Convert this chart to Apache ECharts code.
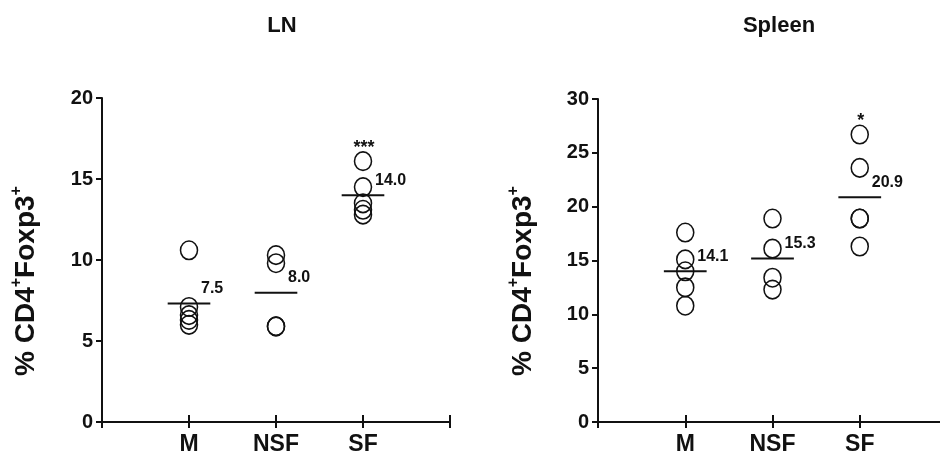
<!DOCTYPE html>
<html>
<head>
<meta charset="utf-8">
<script src="https://cdn.jsdelivr.net/npm/echarts@6/dist/echarts.min.js"></script>
<style>html,body{margin:0;padding:0;background:#fff;}#c{width:940px;height:465px;}</style>
</head>
<body>
<div id="c"></div>
<script>
// ---- data ----
const categories = ['M', 'NSF', 'SF'];
const panelTitles = ['LN', 'Spleen'];
const lnYTicks = [0, 5, 10, 15, 20];
const spYTicks = [0, 5, 10, 15, 20, 25, 30];
// individual animals (% CD4+Foxp3+)
const lnM   = [10.6, 7.1, 6.6, 6.3, 6.0];
const lnNSF = [10.3, 9.8, 5.9, 5.9];
const lnSF  = [16.1, 14.5, 13.5, 13.1, 12.8];
const spM   = [17.6, 15.1, 14.0, 12.5, 10.8];
const spNSF = [18.9, 16.1, 13.4, 12.3];
const spSF  = [26.7, 23.6, 18.9, 18.9, 16.3];
// printed mean labels and significance marks
const lnMeanLabels = ['7.5', '8.0', '14.0'];
const spMeanLabels = ['14.1', '15.3', '20.9'];
const lnSig = ['', '', '***'];
const spSig = ['', '', '*'];

// ---- build ----
const FONT = "'Liberation Sans', Arial, Helvetica, sans-serif";
const lnGroups = [lnM, lnNSF, lnSF];
const spGroups = [spM, spNSF, spSF];
function pts(groups) {
  const out = [];
  groups.forEach((g, i) => g.forEach(v => out.push([i + 1, v])));
  return out;
}
function mean(a) { return a.reduce((s, v) => s + v, 0) / a.length; }
function meanData(groups) { return groups.map((g, i) => [i + 1, mean(g)]); }
function topData(groups) { return groups.map((g, i) => [i + 1, Math.max.apply(null, g)]); }

function meanSeries(groups, labels, gi) {
  return {
    type: 'custom', xAxisIndex: gi * 2, yAxisIndex: gi * 2, silent: true, z: 3,
    data: meanData(groups),
    renderItem: function (params, api) {
      const c = api.coord([api.value(0), api.value(1)]);
      const hw = api.size([0.245, 0])[0];
      return {
        type: 'group',
        children: [
          { type: 'line', shape: { x1: c[0] - hw, y1: c[1], x2: c[0] + hw, y2: c[1] },
            style: { stroke: '#111', lineWidth: 2 } },
          { type: 'text', x: c[0] + 12, y: c[1] - 7,
            style: { text: labels[params.dataIndex], fill: '#111', font: 'bold 16px ' + FONT,
                     textAlign: 'left', textVerticalAlign: 'bottom' } }
        ]
      };
    }
  };
}
function sigSeries(groups, sig, gi) {
  return {
    type: 'custom', xAxisIndex: gi * 2, yAxisIndex: gi * 2, silent: true, z: 3,
    data: topData(groups),
    renderItem: function (params, api) {
      const c = api.coord([api.value(0), api.value(1)]);
      return { type: 'text', x: c[0] + 1, y: c[1] - 22,
        style: { text: sig[params.dataIndex], fill: '#111', font: 'bold 18px ' + FONT,
                 textAlign: 'center', textVerticalAlign: 'top' } };
    }
  };
}
function scatterSeries(groups, gi) {
  return {
    type: 'scatter', xAxisIndex: gi * 2, yAxisIndex: gi * 2, z: 2,
    symbol: 'circle', symbolSize: [17, 18.5],
    itemStyle: { color: 'rgba(0,0,0,0)', borderColor: '#111', borderWidth: 1.6, opacity: 1 },
    data: pts(groups)
  };
}
const grids = [
  { left: 102, width: 348, top: 98, bottom: 43, containLabel: false, outerBoundsMode: 'none' },
  { left: 598, width: 349, top: 99, bottom: 43, containLabel: false, outerBoundsMode: 'none' }
];
function xAxes(gi) {
  return [
    { type: 'value', gridIndex: gi, min: 0, max: 4, interval: 1, position: 'bottom',
      axisLine: { lineStyle: { color: '#111', width: 2 } },
      axisTick: { length: 6, lineStyle: { color: '#111', width: 2 } },
      splitLine: { show: false },
      axisLabel: { margin: 11, color: '#111', fontSize: 23, fontWeight: 'bold', fontFamily: FONT,
        formatter: v => (v >= 1 && v <= categories.length && v === Math.round(v)) ? categories[v - 1] : '' } },
    { type: 'value', gridIndex: gi, min: 0, max: 4, interval: 1, position: 'bottom',
      axisLine: { show: false }, axisLabel: { show: false }, splitLine: { show: false },
      axisTick: { inside: true, length: 7, lineStyle: { color: '#111', width: 2 } } }
  ];
}
function yAxes(gi, ticks) {
  const max = ticks[ticks.length - 1];
  const itv = ticks[1] - ticks[0];
  return [
    { type: 'value', gridIndex: gi, min: ticks[0], max: max, interval: itv,
      axisLine: { show: true, lineStyle: { color: '#111', width: 2 } },
      axisTick: { show: true, length: 6, lineStyle: { color: '#111', width: 2 } },
      splitLine: { show: false },
      axisLabel: { margin: 9, color: '#111', fontSize: 20, fontWeight: 'bold', fontFamily: FONT } },
    { type: 'value', gridIndex: gi, min: ticks[0], max: max, interval: itv,
      axisLine: { show: false }, axisLabel: { show: false }, splitLine: { show: false },
      axisTick: { show: true, inside: true, length: 5, lineStyle: { color: '#111', width: 2 } } }
  ];
}
const yTitleRich = {
  a: { fontSize: 28, fontWeight: 'bold', fontFamily: FONT, fill: '#111', lineHeight: 34 },
  s: { fontSize: 16, fontWeight: 'bold', fontFamily: FONT, fill: '#111', verticalAlign: 'top', lineHeight: 34 }
};
function yTitle(x) {
  return { type: 'text', x: x, y: 281, rotation: Math.PI / 2, silent: true,
    style: { text: '{a|% CD4}{s|+}{a|Foxp3}{s|+}', rich: yTitleRich,
             align: 'center', verticalAlign: 'middle', fill: '#111' } };
}
const option = {
  backgroundColor: '#fff',
  animation: false,
  title: [
    { text: panelTitles[0], left: 277, top: 10, textAlign: 'center',
      textStyle: { fontSize: 22, fontWeight: 'bold', fontFamily: FONT, color: '#111' } },
    { text: panelTitles[1], left: 774, top: 10, textAlign: 'center',
      textStyle: { fontSize: 22, fontWeight: 'bold', fontFamily: FONT, color: '#111' } }
  ],
  graphic: [yTitle(26), yTitle(523)],
  grid: grids,
  xAxis: xAxes(0).concat(xAxes(1)),
  yAxis: yAxes(0, lnYTicks).concat(yAxes(1, spYTicks)),
  series: [
    scatterSeries(lnGroups, 0), meanSeries(lnGroups, lnMeanLabels, 0), sigSeries(lnGroups, lnSig, 0),
    scatterSeries(spGroups, 1), meanSeries(spGroups, spMeanLabels, 1), sigSeries(spGroups, spSig, 1),
    { type: 'scatter', xAxisIndex: 1, yAxisIndex: 1, data: [] },
    { type: 'scatter', xAxisIndex: 3, yAxisIndex: 3, data: [] }
  ]
};
const chart = echarts.init(document.getElementById('c'), null, { renderer: 'canvas' });
chart.setOption(option);
</script>
</body>
</html>
